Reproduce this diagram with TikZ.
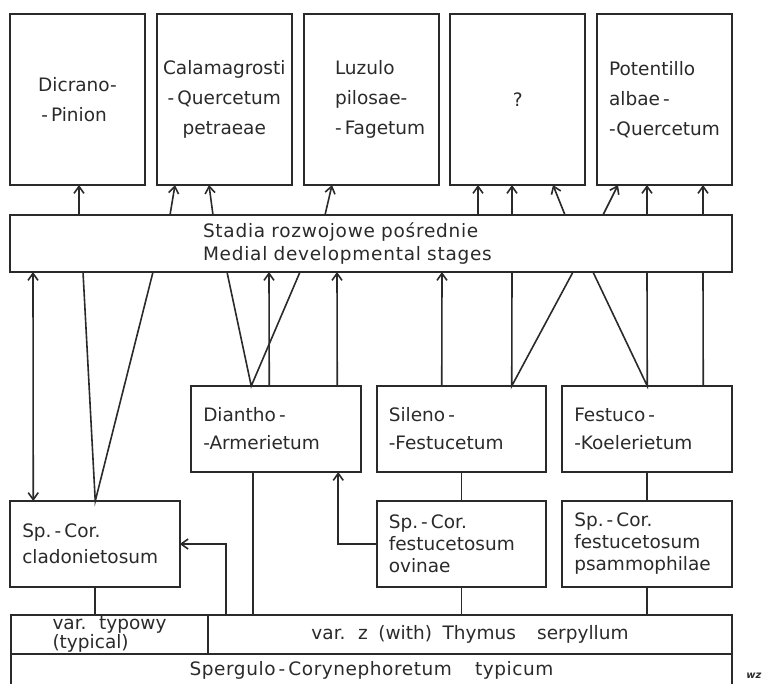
\documentclass[tikz,border=0pt]{standalone}
\usepackage{fontspec}
\setmainfont{DejaVu Sans}[WordSpace=1.8]
\usetikzlibrary{positioning, arrows.meta}
\definecolor{ink}{HTML}{2A2A2A}

\begin{document}
\begin{tikzpicture}[
x=1pt, y=-1pt,
color=ink,
font=\fontsize{18.5}{24}\selectfont,
box/.style={
	rectangle,
	draw,
	line width=2pt,
	outer sep=0pt,
	inner sep=0pt
},
topbox/.style={
	box,
	align=left,
	minimum width=135pt,
	minimum height=171pt,
	font=\fontsize{18.5}{30}\selectfont
},
lowbox/.style={
	box,
	text width=145.5pt,
	inner xsep=12pt,
	align=left,
	minimum height=86pt,
	font=\fontsize{18.5}{28}\selectfont
},
line/.style={
	draw, line width=1.6pt
},
arrow/.style={
	line, -{Straight Barb[length=7pt,width=10pt]}
},
twoway/.style={
	line, {Straight Barb[length=7pt,width=10pt]}-{Straight Barb[length=7pt,width=10pt]}
}
]
\useasboundingbox (0,0) rectangle (763,683);

% Nodes
\node[topbox] (dicrano) at (77.5,99.5) {Dicrano-\\\,-\,Pinion};
\node[topbox, right=11.75pt of dicrano, align=center] (calamagrostis) {Calamagrosti\\-\,Quercetum\\petraeae};
\node[topbox, right=11.75pt of calamagrostis, text width=72pt] (luzulo) {\mbox{Luzulo}\\\mbox{pilosae-}\\\mbox{-\,Fagetum}};
\node[topbox, right=11.75pt of luzulo] (unknown) {?};
\node[topbox, right=11.75pt of unknown] (potentillo) {Potentillo\\albae\,-\\-Quercetum};

\node[box, minimum width=722pt, minimum height=57pt, text width=336pt, align=left, font=\fontsize{18.5}{23}\selectfont\addfontfeature{LetterSpace=4}] (stages) at (371,243.5) {Stadia rozwojowe pośrednie\\Medial developmental stages};

\node[lowbox] (diantho) at (276,429) {Diantho\,-\\-Armerietum};
\node[lowbox, right=16pt of diantho] (sileno) {Sileno\,-\\-Festucetum};
\node[lowbox, right=16pt of sileno] (festuco) {Festuco\,-\\-Koelerietum};
\node[lowbox, below=29pt of sileno, font=\fontsize{18.5}{22}\selectfont] (ovinae) {Sp.\,-\,Cor.\\festucetosum\\ovinae};
\node[lowbox, below=29pt of festuco, font=\fontsize{18.5}{22}\selectfont] (psammophilae) {Sp.\,-\,Cor.\\festucetosum\\psammophilae};
\node[lowbox, font=\fontsize{18.5}{26}\selectfont] (cladonietosum) at (95,544) {Sp.\,-\,Cor.\\cladonietosum};

\node[box, minimum width=197pt, minimum height=39pt, align=left, font=\fontsize{18.5}{19}\selectfont] (typical) at (109.5,634.5) {var. typowy\\(typical)};
\node[box, minimum width=524pt, minimum height=39pt, right=0pt of typical] (thymus) {var. z (with) Thymus\ \ serpyllum};
\node[box, minimum width=721pt, text height=21pt, text depth=15pt, anchor=north west, font=\fontsize{18.5}{24}\selectfont\addfontfeature{LetterSpace=3}] (spergulo) at (typical.south west) {Spergulo\,-\,Corynephoretum\ \ typicum};

\node[font=\fontsize{10}{10}\selectfont\bfseries\itshape] (wz) at (754,676) {wz};

% Lines up to the top row
\draw[arrow] ([xshift=69pt]stages.north west) -- ([xshift=69pt]dicrano.south west);
\draw[arrow] ([xshift=160pt]stages.north west) -- ([xshift=18.25pt]calamagrostis.south west);
\draw[arrow] ([xshift=203pt]stages.north west) -- ([xshift=52.25pt]calamagrostis.south west);
\draw[arrow] ([xshift=315pt]stages.north west) -- ([xshift=28.5pt]luzulo.south west);
\draw[arrow] ([xshift=468pt]stages.north west) -- ([xshift=27.75pt]unknown.south west);
\draw[arrow] ([xshift=502pt]stages.north west) -- ([xshift=61.75pt]unknown.south west);
\draw[arrow] ([xshift=555pt]stages.north west) -- ([xshift=102.75pt]unknown.south west);
\draw[arrow] ([xshift=593pt]stages.north west) -- ([xshift=21pt]potentillo.south west);
\draw[arrow] ([xshift=637pt]stages.north west) -- ([xshift=50pt]potentillo.south west);
\draw[arrow] ([xshift=693pt]stages.north west) -- ([xshift=106pt]potentillo.south west);

% Lines from the lower boxes to the stages
\draw[twoway] ([xshift=23pt]stages.south west) -- ([xshift=23pt]cladonietosum.north west);
\draw[line] ([xshift=73pt]stages.south west) -- ([xshift=85pt]cladonietosum.north west) -- ([xshift=143pt]stages.south west);
\draw[line] ([xshift=217pt]stages.south west) -- ([xshift=60pt]diantho.north west) -- ([xshift=290pt]stages.south west);
\draw[arrow] ([xshift=78pt]diantho.north west) -- ([xshift=259pt]stages.south west);
\draw[arrow] ([xshift=146pt]diantho.north west) -- ([xshift=327pt]stages.south west);
\draw[arrow] ([xshift=65pt]sileno.north west) -- ([xshift=432pt]stages.south west);
\draw[line] ([xshift=502pt]stages.south west) -- ([xshift=135pt]sileno.north west) -- ([xshift=563pt]stages.south west);
\draw[line] ([xshift=583pt]stages.south west) -- ([xshift=85pt]festuco.north west) -- ([xshift=637pt]stages.south west);
\draw[line] ([xshift=141pt]festuco.north west) -- ([xshift=693pt]stages.south west);

% Lines down to the base
\draw[line] (sileno) -- (ovinae);
\draw[line] (festuco) -- (psammophilae);
\draw[line] (ovinae) -- (ovinae |- thymus.north);
\draw[line] (psammophilae) -- (psammophilae |- thymus.north);
\draw[line] (cladonietosum) -- (cladonietosum |- typical.north);
\draw[line] ([xshift=62pt]diantho.south west) -- ([xshift=62pt]diantho.south west |- thymus.north);
\draw[arrow] ([xshift=18pt]thymus.north west) |- (cladonietosum.east);
\draw[arrow] (ovinae.west) -| ([xshift=147pt]diantho.south west);

\end{tikzpicture}
\end{document}
